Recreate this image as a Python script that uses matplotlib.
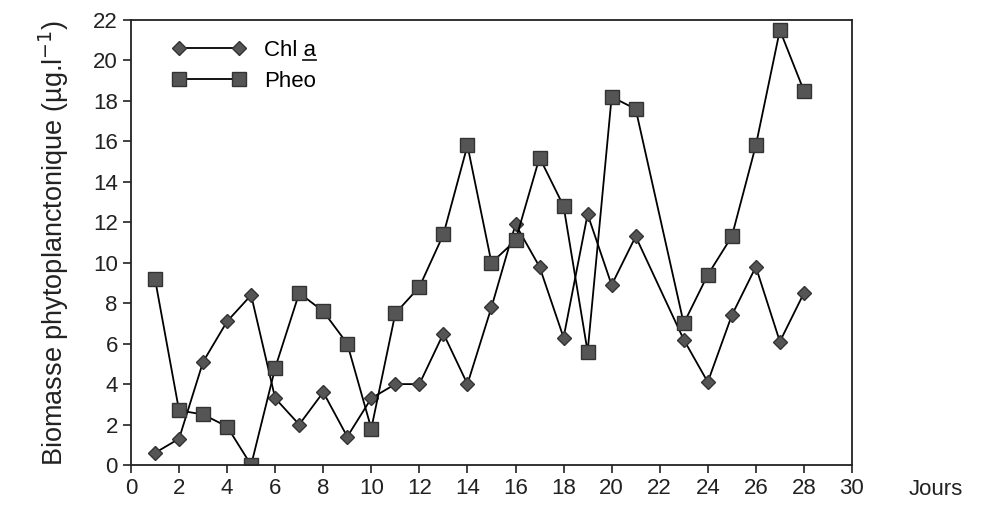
import numpy as np
import matplotlib.pyplot as plt
from matplotlib.lines import Line2D

jours = [1, 2, 3, 4, 5, 6, 7, 8, 9, 10, 11, 12, 13, 14, 15, 16, 17, 18, 19, 20, 21, 23, 24, 25, 26, 27, 28]
chl_a = [0.6, 1.3, 5.1, 7.1, 8.4, 3.3, 2.0, 3.6, 1.4, 3.3, 4.0, 4.0, 6.5, 4.0, 7.8, 11.9, 9.8, 6.3, 12.4, 8.9, 11.3, 6.2, 4.1, 7.4, 9.8, 6.1, 8.5]
pheo = [9.2, 2.7, 2.5, 1.9, 0.0, 4.8, 8.5, 7.6, 6.0, 1.8, 7.5, 8.8, 11.4, 15.8, 10.0, 11.1, 15.2, 12.8, 5.6, 18.2, 17.6, 7.0, 9.4, 11.3, 15.8, 21.5, 18.5]

plt.rcParams['font.family'] = ['Liberation Sans', 'DejaVu Sans']

fig = plt.figure(figsize=(9.87, 5.08), dpi=100)
ax = fig.add_axes([0.1327, 0.0846, 0.7305, 0.876])

ax.plot(jours, chl_a, color='black', lw=1.3, marker='D', markersize=7.5,
        markerfacecolor='#555555', markeredgecolor='#333333', label='Chl a')
ax.plot(jours, pheo, color='black', lw=1.3, marker='s', markersize=10,
        markerfacecolor='#555555', markeredgecolor='#333333', label='Pheo')

ax.set_xlim(0, 30)
ax.set_ylim(0, 22)
ax.set_xticks(np.arange(0, 31, 2))
ax.set_yticks(np.arange(0, 23, 2))
ax.tick_params(direction='out', length=6, width=1.2, labelsize=16, colors='#222222')
for s in ax.spines.values():
    s.set_linewidth(1.3)
    s.set_color('#222222')

ax.set_ylabel('Biomasse phytoplanctonique (µg.l$^{-1}$)', fontsize=19.5, color='#222222', labelpad=16)
fig.text(0.948, 0.025, 'Jours', fontsize=16, color='#222222', ha='center')

leg = ax.legend(loc='upper left', frameon=False, fontsize=16, numpoints=2, handlelength=3.3,
                handletextpad=0.8, labelspacing=0.45, bbox_to_anchor=(0.03, 1.0))

# souligner le "a" de Chl a
fig.canvas.draw()
r = fig.canvas.get_renderer()
t = leg.get_texts()[0]
bb = t.get_window_extent(r)
tmp = fig.text(0, 0, 'a', fontsize=16)
wa = tmp.get_window_extent(r).width
tmp.remove()
inv = fig.transFigure.inverted()
(x0, y0) = inv.transform((bb.x1 - wa, bb.y0 + 1))
(x1, _) = inv.transform((bb.x1, bb.y0 + 1))
fig.add_artist(Line2D([x0, x1], [y0, y0], transform=fig.transFigure, color='#222222', lw=1.3))

fig.savefig('out.png', dpi=100)
